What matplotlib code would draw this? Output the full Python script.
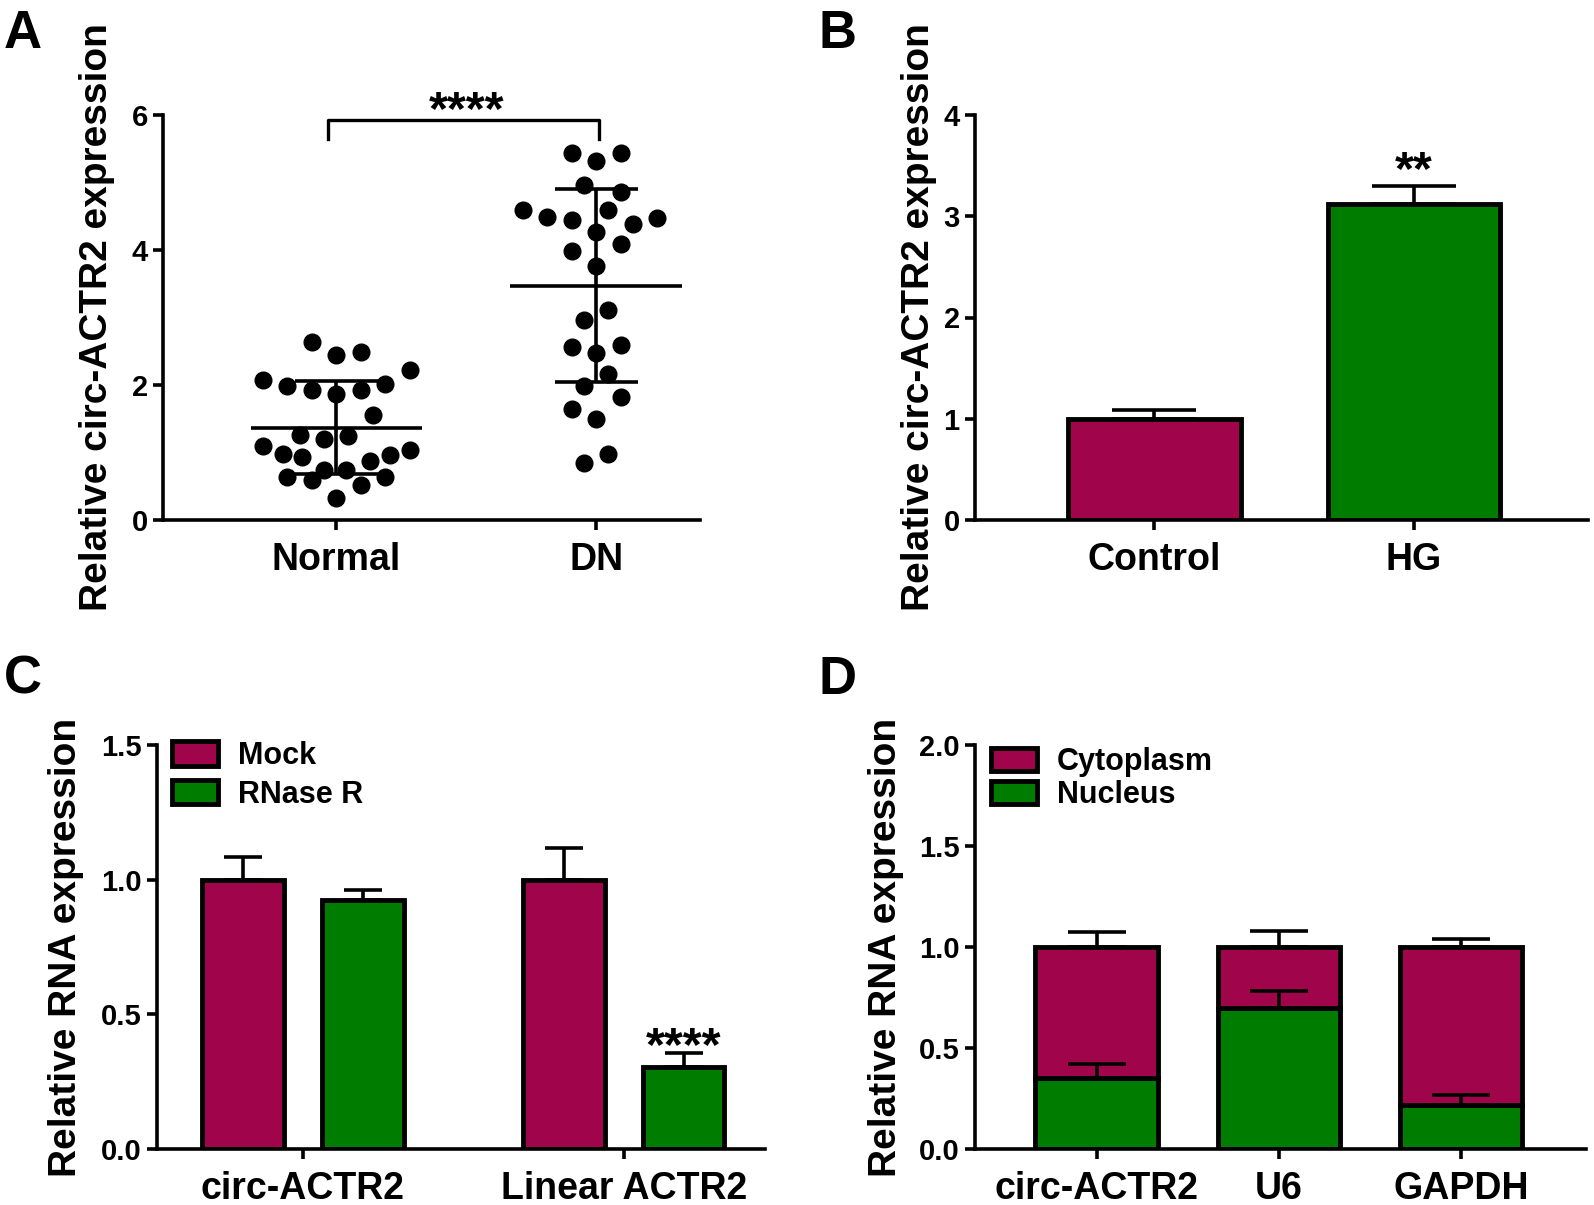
import numpy as np
import matplotlib
matplotlib.use("Agg")
import matplotlib.pyplot as plt
from matplotlib.patches import Patch

plt.rcParams['font.family'] = ['Liberation Sans', 'DejaVu Sans']
plt.rcParams['font.weight'] = 'bold'
plt.rcParams['axes.labelweight'] = 'bold'

# ---------------- data ----------------
# Panel A
groups_a = ["Normal", "DN"]
normal_vals = [2.64, 2.44, 2.49, 2.22, 2.07, 1.98, 1.92, 1.87, 1.93, 2.02,
               1.55, 1.26, 1.20, 1.24, 1.09, 0.98, 0.94, 1.04, 0.97, 0.87,
               0.74, 0.74, 0.64, 0.59, 0.63, 0.52, 0.33]
dn_vals = [5.44, 5.32, 5.43, 4.96, 4.86, 4.60, 4.49, 4.44, 4.60, 4.47,
           4.39, 4.27, 4.09, 3.98, 3.77, 3.11, 2.97, 2.56, 2.48, 2.59,
           2.16, 1.98, 1.82, 1.64, 1.50, 0.98, 0.84]
# swarm column offsets (layout)
normal_cols = [-1, 0, 1, 3, -3, -2, -1, 0, 1, 2,
               1.5, -1.5, -0.5, 0.5, -3, -2.2, -1.4, 3, 2.2, 1.4,
               -0.5, 0.4, -2, -1, 2, 1, 0]
dn_cols = [-1, 0, 1, -0.5, 1, -3, -2, -1, 0.5, 2.5,
           1.5, 0, 1, -1, 0, 0.5, -0.5, -1, 0, 1,
           0.5, -0.5, 1, -1, 0, 0.5, -0.5]
sig_a = "****"

# Panel B
groups_b = ["Control", "HG"]
vals_b = [1.0, 3.12]
err_b = [0.09, 0.18]
sig_b = "**"

# Panel C
groups_c = ["circ-ACTR2", "Linear ACTR2"]
mock_c = [1.0, 1.0]
mock_err_c = [0.085, 0.118]
rnase_c = [0.924, 0.304]
rnase_err_c = [0.036, 0.052]
sig_c = "****"

# Panel D
groups_d = ["circ-ACTR2", "U6", "GAPDH"]
nucleus_d = [0.35, 0.70, 0.22]
nucleus_err_d = [0.07, 0.08, 0.045]
cytoplasm_d = [0.65, 0.30, 0.78]
total_err_d = [0.073, 0.078, 0.042]

# ---------------- style ----------------
MAG = '#A0044A'
GRN = '#007D00'
W, H = 1594, 1205
fig = plt.figure(figsize=(W / 100, H / 100), dpi=100)


def rect(l, r, t, b):
    return [l / W, 1 - b / H, (r - l) / W, (b - t) / H]


def style(ax, ylabel, labx):
    for s in ['top', 'right']:
        ax.spines[s].set_visible(False)
    for s in ['left', 'bottom']:
        ax.spines[s].set_linewidth(2.6)
    ax.tick_params(axis='both', width=2.6, length=7, color='black')
    ax.tick_params(axis='y', labelsize=21, pad=4)
    ax.tick_params(axis='x', labelsize=27, pad=9)
    ax.set_ylabel(ylabel, fontsize=28, fontweight='bold', va='center')
    ax.yaxis.set_label_coords(labx, 0.5)


def stars(ax, x, y, s):
    ax.text(x, y, s, ha='center', va='baseline', fontsize=35, fontweight='bold', clip_on=False)


# ---------------- Panel A ----------------
axA = fig.add_axes(rect(163, 700, 115, 520))
col_w = 0.094
for i, (vals, cols) in enumerate([(normal_vals, normal_cols), (dn_vals, dn_cols)]):
    v = np.array(vals)
    x = i + col_w * np.array(cols)
    axA.plot(x, v, 'o', color='black', markersize=12, zorder=3, clip_on=False)
    m = v.mean()
    sd = v.std(ddof=1)
    axA.hlines(m, i - 0.33, i + 0.33, color='black', lw=2.6, zorder=4)
    axA.hlines([m - sd, m + sd], i - 0.16, i + 0.16, color='black', lw=2.6, zorder=4)
    axA.vlines(i, m - sd, m + sd, color='black', lw=2.6, zorder=4)
axA.plot([0 - 0.03, 0 - 0.03, 1.01, 1.01], [5.65, 5.92, 5.92, 5.65], color='black', lw=2.4, clip_on=False)
stars(axA, 0.5, 5.86, sig_a)
axA.set_xlim(-0.667, 1.4)
axA.set_ylim(0, 6)
axA.set_yticks([0, 2, 4, 6])
axA.set_xticks([0, 1])
axA.set_xticklabels(groups_a)
style(axA, "Relative circ-ACTR2 expression", -0.123)

# ---------------- Panel B ----------------
axB = fig.add_axes(rect(975, 1588, 115, 520))
xb = np.arange(len(groups_b))
axB.bar(xb, vals_b, width=0.665, color=[MAG, GRN], edgecolor='black', linewidth=3.5, zorder=2)
axB.errorbar(xb, vals_b, yerr=[np.zeros(2), err_b], fmt='none', ecolor='black',
             elinewidth=2.6, capsize=30, capthick=2.6, zorder=1)
stars(axB, 1, 3.32, sig_b)
axB.set_xlim(-0.69, 1.67)
axB.set_ylim(0, 4)
axB.set_yticks([0, 1, 2, 3, 4])
axB.set_xticks(xb)
axB.set_xticklabels(groups_b)
style(axB, "Relative circ-ACTR2 expression", -0.091)

# ---------------- Panel C ----------------
axC = fig.add_axes(rect(157, 765, 745, 1149))
xc = np.arange(len(groups_c))
bw = 0.255
off = 0.186
axC.bar(xc - off, mock_c, width=bw, color=MAG, edgecolor='black', linewidth=3.5, zorder=2, label='Mock')
axC.bar(xc + off, rnase_c, width=bw, color=GRN, edgecolor='black', linewidth=3.5, zorder=2, label='RNase R')
axC.errorbar(xc - off, mock_c, yerr=[np.zeros(2), mock_err_c], fmt='none', ecolor='black',
             elinewidth=2.6, capsize=14, capthick=2.6, zorder=1)
axC.errorbar(xc + off, rnase_c, yerr=[np.zeros(2), rnase_err_c], fmt='none', ecolor='black',
             elinewidth=2.6, capsize=14, capthick=2.6, zorder=1)
stars(axC, 1 + off, 0.33, sig_c)
axC.set_xlim(-0.455, 1.44)
axC.set_ylim(0, 1.5)
axC.set_yticks([0.0, 0.5, 1.0, 1.5])
axC.set_yticklabels(["0.0", "0.5", "1.0", "1.5"])
axC.set_xticks(xc)
axC.set_xticklabels(groups_c)
style(axC, "Relative RNA expression", -0.15)
legC = axC.legend(handles=[Patch(facecolor=MAG, edgecolor='black', linewidth=3.5, label='Mock'),
                           Patch(facecolor=GRN, edgecolor='black', linewidth=3.5, label='RNase R')],
                  loc='upper left', bbox_to_anchor=(0.005, 1.04), frameon=False, fontsize=22,
                  handlelength=1.5, handleheight=0.85, handletextpad=0.65, labelspacing=0.28,
                  borderaxespad=0.0)
for t in legC.get_texts():
    t.set_fontweight('bold')

# ---------------- Panel D ----------------
axD = fig.add_axes(rect(975, 1586, 745, 1149))
xd = np.arange(len(groups_d))
nuc = np.array(nucleus_d)
cyt = np.array(cytoplasm_d)
axD.bar(xd, nuc, width=0.67, color=GRN, edgecolor='black', linewidth=3.5, zorder=2)
axD.bar(xd, cyt, bottom=nuc, width=0.67, color=MAG, edgecolor='black', linewidth=3.5, zorder=2)
axD.errorbar(xd, nuc + cyt, yerr=[np.zeros(3), total_err_d], fmt='none', ecolor='black',
             elinewidth=2.6, capsize=21, capthick=2.6, zorder=1)
axD.errorbar(xd, nuc, yerr=[np.zeros(3), nucleus_err_d], fmt='none', ecolor='black',
             elinewidth=2.6, capsize=21, capthick=2.6, zorder=3)
axD.set_xlim(-0.667, 2.687)
axD.set_ylim(0, 2.0)
axD.set_yticks([0.0, 0.5, 1.0, 1.5, 2.0])
axD.set_yticklabels(["0.0", "0.5", "1.0", "1.5", "2.0"])
axD.set_xticks(xd)
axD.set_xticklabels(groups_d)
style(axD, "Relative RNA expression", -0.145)
legD = axD.legend(handles=[Patch(facecolor=MAG, edgecolor='black', linewidth=3.5, label='Cytoplasm'),
                           Patch(facecolor=GRN, edgecolor='black', linewidth=3.5, label='Nucleus')],
                  loc='upper left', bbox_to_anchor=(0.007, 1.025), frameon=False, fontsize=22,
                  handlelength=1.5, handleheight=0.75, handletextpad=0.65, labelspacing=0.1,
                  borderaxespad=0.0)
for t in legD.get_texts():
    t.set_fontweight('bold')

# ---------------- panel letters ----------------
for lab, x, y in [("A", 4, 48), ("B", 818, 48), ("C", 4, 694), ("D", 818, 694)]:
    fig.text(x / W, 1 - y / H, lab, fontsize=38, fontweight='bold', ha='left', va='baseline')

fig.savefig("out.png", dpi=100)
